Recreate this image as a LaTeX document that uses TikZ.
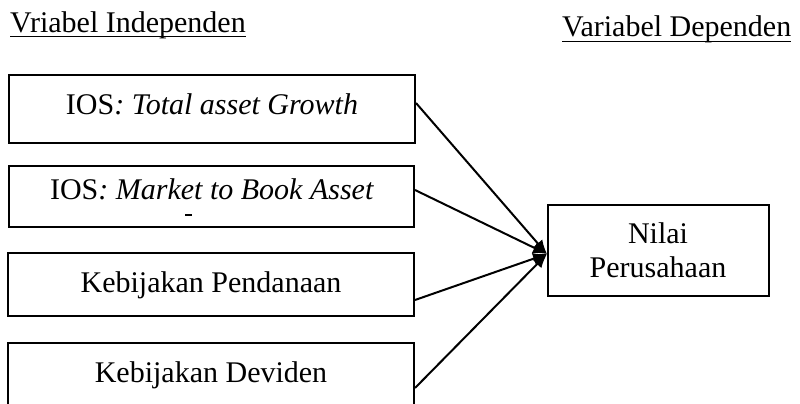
\documentclass[tikz,border=0pt]{standalone}
\usepackage{fontspec}
\setmainfont{Liberation Serif}
\usetikzlibrary{arrows.meta,calc}
\begin{document}
\begin{tikzpicture}[x=1pt,y=-1pt,
  box/.style={draw,line width=2pt,inner sep=0pt},
  lbl/.style={inner sep=0pt,anchor=base,font=\fontsize{30}{34}\selectfont},
  conn/.style={line width=2pt,-{Latex[length=14pt,width=12pt]}}]
\useasboundingbox (0,0) rectangle (800,404);
% headings
\node[lbl,anchor=base west] (h1) at (10,33) {Vriabel Independen};
\node[lbl,anchor=base west] (h2) at (562,37) {Variabel Dependen};
\draw[line width=1.6pt] ([yshift=-3.5pt]h1.base west) -- ([yshift=-3.5pt]h1.base east);
\draw[line width=1.6pt] ([yshift=-4.5pt]h2.base west) -- ([yshift=-4.5pt]h2.base east);
% boxes
\node[box,minimum width=406pt,minimum height=68pt] (b1) at (212,109) {};
\node[box,minimum width=405pt,minimum height=61pt] (b2) at (211.5,196.5) {};
\node[box,minimum width=406pt,minimum height=63pt] (b3) at (211,284.5) {};
\node[box,minimum width=406pt,minimum height=63pt] (b4) at (211,374.5) {};
\node[box,minimum width=221pt,minimum height=91pt] (nv) at (658.5,250.5) {};
% texts
\node[lbl] (t1) at (212,114) {IOS\textit{: Total asset Growth}};
\node[lbl] (t2) at (212,199) {IOS\textit{: Market to Book Asset}};
\node[inner sep=0pt,fill=black,minimum width=7pt,minimum height=2pt] (t2d) at (188,215) {};
\node[lbl] (t3) at (211,292) {Kebijakan Pendanaan};
\node[lbl] (t4) at (211,382) {Kebijakan Deviden};
\node[lbl] (n1) at (658,243) {Nilai};
\node[lbl] (n2) at (658,277) {Perusahaan};
% connectors
\coordinate (tip) at ([yshift=-3.5pt]nv.west);
\draw[conn] ([yshift=6pt]b1.east) -- (tip);
\draw[conn] ([yshift=6.5pt]b2.east) -- (tip);
\draw[conn] ([yshift=-15.5pt]b3.east) -- (tip);
\draw[conn] ([yshift=-13.5pt]b4.east) -- (tip);
\end{tikzpicture}
\end{document}
